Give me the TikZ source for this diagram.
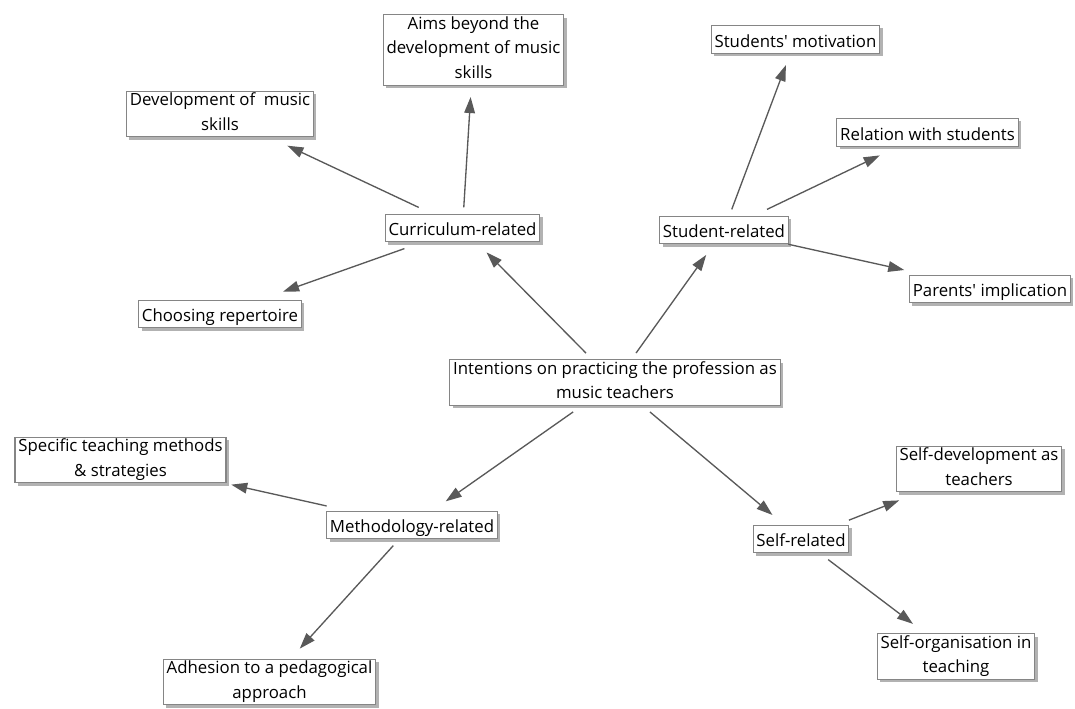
\documentclass[tikz,border=0pt]{standalone}
\usepackage{fontspec}
\setmainfont{Open Sans}[Ligatures=TeXOff]
\usetikzlibrary{arrows.meta,shadows}
\definecolor{boxline}{HTML}{858585}
\definecolor{linkgray}{HTML}{595959}
\newcommand\topicstrut{\rule[-3.6pt]{0pt}{18.5pt}}
\tikzset{
  topic/.style={draw=boxline,fill=white,line width=0.8pt,align=center,inner xsep=2.5pt,inner ysep=1.2pt,
    outer xsep=0pt,outer ysep=5pt,font=\fontsize{12.6}{18.5}\selectfont,
    execute at begin node=\topicstrut,execute at end node=\topicstrut,
    drop shadow={shadow xshift=2.2pt,shadow yshift=-2.2pt,fill=black!30,opacity=1}},
  link/.style={draw=linkgray,line width=1pt,-{Triangle[length=12pt,width=8pt]},shorten >=4pt}
}
\begin{document}
\begin{tikzpicture}[x=0.75pt,y=-0.75pt]
\useasboundingbox (0,0) rectangle (1075,709);
% centre
\node[topic] (intent) at (615,382.5) {Intentions on practicing the profession as\\music teachers};
% four groups
\node[topic] (curric) at (462.5,228) {Curriculum-related};
\node[topic] (student) at (724,230) {Student-related};
\node[topic] (method) at (412,525) {Methodology-related};
\node[topic] (self) at (801,539) {Self-related};
% leaves
\node[topic] (devskills) at (220,114) {Development of~ music\\skills};
\node[topic] (aims) at (473.5,50) {Aims beyond the\\development of music\\skills};
\node[topic] (repert) at (220,314) {Choosing repertoire};
\node[topic] (motiv) at (795.5,39.5) {Students' motivation};
\node[topic] (relation) at (927.5,132.5) {Relation with students};
\node[topic] (parents) at (990,289) {Parents' implication};
\node[topic] (specific) at (120.5,460) {Specific teaching methods\\\& strategies};
\node[topic] (adhesion) at (269.5,682) {Adhesion to a pedagogical\\approach};
\node[topic] (selfdev) at (979,469) {Self-development as\\teachers};
\node[topic] (selforg) at (956,656.5) {Self-organisation in\\teaching};
% arrows
\foreach \a/\b in {intent/curric,intent/student,intent/method,intent/self,
  curric/devskills,curric/aims,curric/repert,student/motiv,student/relation,student/parents,
  method/specific,method/adhesion,self/selfdev,self/selforg}{\draw[link] (\a) -- (\b);}
\end{tikzpicture}
\end{document}
